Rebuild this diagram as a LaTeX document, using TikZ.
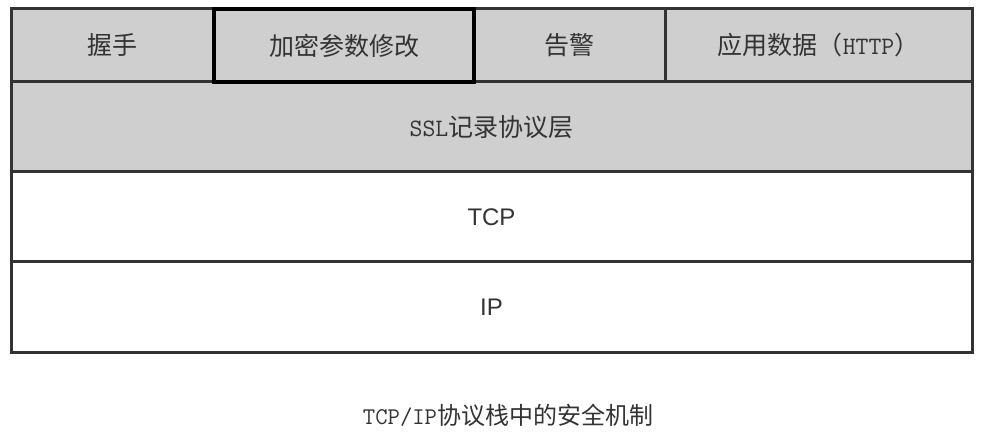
\documentclass[tikz,border=0pt]{standalone}
\usepackage{fontspec}
\setmainfont{Liberation Sans}
\newfontfamily\cjk{Noto Sans CJK SC}
\newcommand\monof{\ttfamily}
\definecolor{layergray}{HTML}{CFCFCF}
\definecolor{edgegray}{HTML}{333333}
\definecolor{txtgray}{HTML}{333333}
\begin{document}
\begin{tikzpicture}[x=1pt,y=-1pt,
  layer/.style={draw=edgegray,line width=3pt,inner sep=0pt,outer sep=0pt,anchor=north west,text=txtgray,font=\fontsize{25}{29}\selectfont\cjk},
  graylayer/.style={layer,fill=layergray},
  whitelayer/.style={layer,fill=white,font=\fontsize{24}{28}\selectfont}]
\useasboundingbox (0,0) rectangle (982,438);
\node[graylayer,minimum width=203pt,minimum height=73pt] (hs) at (11,9) {握手};
\node[graylayer,minimum width=191pt,minimum height=73pt] (al) at (474,9) {告警};
\node[graylayer,minimum width=307pt,minimum height=73pt] (app) at (665,9) {应用数据（{\monof HTTP}）};
\node[graylayer,minimum width=961pt,minimum height=90pt] (ssl) at (11,82) {{\monof SSL}记录协议层};
\node[whitelayer,minimum width=961pt,minimum height=90pt] (tcp) at (11,172) {TCP};
\node[whitelayer,minimum width=961pt,minimum height=90pt] (ip) at (11,262) {IP};
\node[graylayer,draw=black,line width=3.5pt,minimum width=260pt,minimum height=73pt] (ccs) at (214,9) {加密参数修改};
\node[font=\fontsize{24}{28}\selectfont\cjk,text=txtgray] (cap) at (508,415) {{\monof TCP/IP}协议栈中的安全机制};
\end{tikzpicture}
\end{document}
